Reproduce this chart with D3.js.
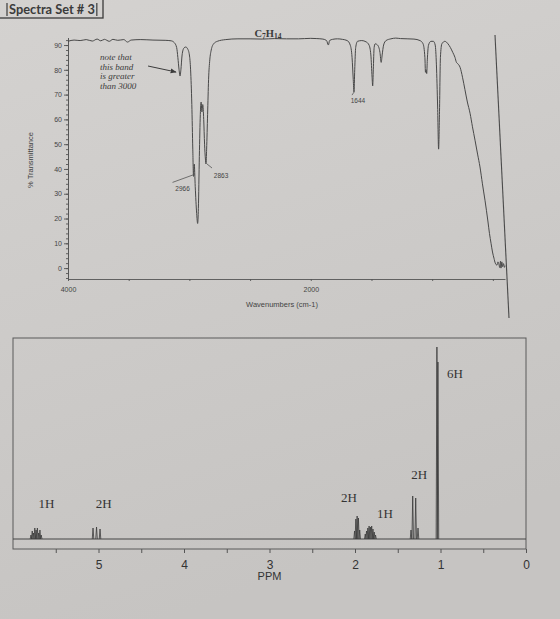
<!DOCTYPE html>
<html>
<head>
<meta charset="utf-8">
<script src="https://cdn.jsdelivr.net/npm/d3@7"></script>
<style>
  html, body { margin: 0; padding: 0; background: #cecccA; }
  svg { display: block; }
</style>
</head>
<body>
<div id="graph"></div>
<script>
// IR trace: wavenumber (cm-1) and % transmittance
const irWavenumber = [4000, 3950, 3900, 3850, 3800, 3760, 3730, 3700, 3660, 3630, 3590, 3540, 3510, 3480,
  3400, 3300, 3200, 3150, 3125, 3105, 3095, 3085, 3077, 3070, 3060, 3045, 3030, 3015, 3000, 2990,
  2980, 2972, 2966, 2960, 2952, 2940, 2932, 2926, 2918, 2910, 2903, 2897, 2890, 2882, 2875, 2868,
  2863, 2858, 2850, 2842, 2832, 2820, 2800, 2770, 2700, 2600, 2500, 2400, 2300, 2200, 2100, 2000,
  1950, 1900, 1870, 1855, 1845, 1820, 1780, 1740, 1700, 1675, 1660, 1650, 1644, 1638, 1630, 1615,
  1580, 1545, 1520, 1505, 1495, 1490, 1485, 1478, 1470, 1450, 1430, 1420, 1412, 1400, 1380, 1340,
  1300, 1260, 1200, 1150, 1100, 1075, 1060, 1055, 1050, 1045, 1040, 1030, 1010, 990, 975, 965,
  955, 947, 940, 932, 920, 895, 870, 850, 830, 812, 800, 790, 770, 750, 730, 710, 688, 668, 647,
  626, 606, 586, 565, 540, 528, 515, 503, 491, 480, 466, 458, 450, 443, 437, 433, 426, 420, 412, 405, 400];
const irTransmittance = [91.5, 92, 91.8, 92.2, 91.6, 92.4, 91.7, 92.3, 91.5, 92.3, 91.9, 92.2, 91.2, 92,
  92.2, 92, 91.9, 91.7, 91, 89, 85, 80, 77.5, 80, 86, 88.8, 89.2, 88.5, 86, 80,
  66, 48, 37, 42, 33, 22, 18, 24, 45, 62, 67, 63, 66, 60, 50, 44,
  42, 48, 62, 76, 84, 88, 90.5, 91.5, 92.2, 92.5, 92.5, 92.4, 92.6, 92.5, 92.5, 92.7,
  92.6, 92.4, 91.8, 90, 91.8, 92.3, 92.5, 92.3, 91.8, 90, 85, 76, 71, 80, 89, 91.5,
  91.8, 91.3, 90, 86, 77, 73.5, 80, 89, 90.5, 90, 87, 83, 86, 90, 91.8, 92.5,
  92.8, 92.6, 92.5, 92.4, 91.8, 90.5, 85, 79, 80, 78.5, 84, 90, 91.5, 91.5, 90, 82,
  65, 48, 62, 85, 90.5, 91.5, 90.5, 89, 87, 85, 83, 82.5, 81, 77, 72, 67, 62.5, 57, 51.6,
  46, 40.8, 34, 27.4, 18.6, 14, 10, 6.5, 4, 2, 1.2, 2.5, 1.5, 0.2, 2.8, 0, 2.5, 0.6, 1.8, 0.3, 1];
const irPeakLabels = [2966, 2863, 1644];
const irYTicks = [0, 10, 20, 30, 40, 50, 60, 70, 80, 90];
const irXTicks = [4000, 3500, 3000, 2500, 2000, 1500, 1000, 500];
const irXTickLabels = [4000, 2000];
const irNote = ["note that", "this band", "is greater", "than 3000"];

// 1H NMR lines: shift (ppm) and height
const nmrPpm = [5.79, 5.775, 5.76, 5.745, 5.73, 5.715, 5.70, 5.685, 5.67,
  5.064, 5.023, 4.982,
  2.005, 1.99, 1.975, 1.96, 1.945,
  1.88, 1.865, 1.85, 1.835, 1.82, 1.805, 1.79, 1.775, 1.76,
  1.345, 1.325, 1.29, 1.263,
  1.042, 1.03];
const nmrHeight = [4, 8, 6, 11, 9, 11, 6, 9, 4,
  11, 12, 10,
  8, 20, 23, 21, 9,
  5, 8, 11, 13, 12, 13, 10, 7, 4,
  9, 43, 41, 11,
  192, 177];
const nmrIntegralText = ["1H", "2H", "2H", "1H", "2H", "6H"];
const nmrIntegralPpm = [5.61, 4.94, 2.07, 1.65, 1.25, 0.83];
const nmrIntegralHeight = [36, 36, 42, 26, 65, 166];
const nmrTicks = [5.5, 5, 4.5, 4, 3.5, 3, 2.5, 2, 1.5, 1, 0.5, 0];
const nmrTickLabels = [5, 4, 3, 2, 1, 0];

const width = 560;
const height = 619;
const ink = "#3b3b3b";
const line = "#555";

const svg = d3.select("#graph")
  .append("svg")
    .attr("width", width)
    .attr("height", height);

// paper background
const grad = svg.append("defs").append("linearGradient")
  .attr("id", "paper").attr("x1", 0).attr("y1", 0).attr("x2", 0.3).attr("y2", 1);
grad.append("stop").attr("offset", "0%").attr("stop-color", "#d4d2d0");
grad.append("stop").attr("offset", "100%").attr("stop-color", "#c6c4c2");
svg.append("rect").attr("width", width).attr("height", height).attr("fill", "url(#paper)");

// title box
svg.append("rect")
  .attr("x", -2).attr("y", -2).attr("width", 105).attr("height", 20)
  .attr("fill", "none").attr("stroke", ink).attr("stroke-width", 1.3);
const title = svg.append("text")
  .attr("x", 9).attr("y", 14)
  .style("font", "bold 12.8px Lato, 'Open Sans', sans-serif")
  .attr("fill", ink)
  .text("Spectra Set # 3");
const titleEnd = 9 + title.node().getComputedTextLength();
[7, titleEnd + 2].forEach(x => svg.append("line")
  .attr("x1", x).attr("x2", x).attr("y1", 3).attr("y2", 16)
  .attr("stroke", ink).attr("stroke-width", 1.2));

// ---------- IR ----------
const irX = d3.scaleLinear().domain([4000, 400]).range([68, 505]);
const irY = d3.scaleLinear().domain([-4.4, 93]).range([279, 37.6]);
const ir = svg.append("g");

ir.append("g")
  .attr("transform", `translate(0,${irY(-4.4)})`)
  .call(d3.axisBottom(irX)
    .tickValues(irXTicks)
    .tickSize(2)
    .tickSizeOuter(0)
    .tickPadding(6)
    .tickFormat(d => irXTickLabels.includes(d) ? d : ""));

ir.append("g")
  .attr("transform", `translate(${irX(4000)},0)`)
  .call(d3.axisLeft(irY)
    .tickValues(irYTicks)
    .tickSize(4)
    .tickPadding(2)
    .tickSizeOuter(0));

ir.append("g")
  .attr("transform", `translate(${irX(4000)},0)`)
  .call(d3.axisLeft(irY)
    .tickValues(d3.range(-4, 93, 2))
    .tickSize(2)
    .tickSizeOuter(0)
    .tickFormat(""));

ir.selectAll(".domain, .tick line").attr("stroke", line).attr("stroke-width", 0.9);
ir.selectAll(".tick text")
  .attr("fill", "#444")
  .style("font", "7px 'Liberation Sans', Arial, sans-serif");

ir.append("text")
  .attr("transform", "translate(33,160) rotate(-90)")
  .attr("text-anchor", "middle")
  .attr("fill", "#444")
  .style("font", "7.5px 'Liberation Sans', Arial, sans-serif")
  .text("% Transmittance");

ir.append("text")
  .attr("x", 282).attr("y", 307)
  .attr("text-anchor", "middle")
  .attr("fill", "#444")
  .style("font", "7.5px 'Liberation Sans', Arial, sans-serif")
  .text("Wavenumbers (cm-1)");

// formula
const formula = ir.append("text")
  .attr("x", 268).attr("y", 37)
  .attr("text-anchor", "middle")
  .attr("fill", ink)
  .style("font", "bold 10.5px 'Liberation Serif', 'DejaVu Serif', serif");
formula.append("tspan").text("C");
formula.append("tspan").attr("dy", 2).style("font-size", "7.5px").text("7");
formula.append("tspan").attr("dy", -2).text("H");
formula.append("tspan").attr("dy", 2).style("font-size", "7.5px").text("14");

// frame line at right edge of the sheet
ir.append("line")
  .attr("x1", irX(400) - 10).attr("y1", 35)
  .attr("x2", irX(400) + 4).attr("y2", 318)
  .attr("stroke", "#4a4a4a").attr("stroke-width", 1.1);

const irPoints = irWavenumber.map((w, i) => [w, irTransmittance[i]]);
const irLine = d3.line()
  .x(d => irX(d[0]))
  .y(d => irY(d[1]))
  .curve(d3.curveMonotoneX);

ir.append("path")
  .datum(irPoints)
  .attr("d", irLine)
  .attr("fill", "none")
  .attr("stroke", "#484848")
  .attr("stroke-width", 1);

// peak labels with leaders
const labelOffsets = {
  2966: { tx: -11, ty: 12, l: [[-21, 6], [1, -2]] },
  2863: { tx: 15, ty: 12, l: [[1, 0], [6, 4]] },
  1644: { tx: 4, ty: 8.5, l: [[0, 0], [-2, 3]] }
};
irPeakLabels.forEach(p => {
  const i = irWavenumber.indexOf(p);
  const px = irX(p), py = irY(irTransmittance[i]);
  const o = labelOffsets[p];
  ir.append("line")
    .attr("x1", px + o.l[0][0]).attr("y1", py + o.l[0][1])
    .attr("x2", px + o.l[1][0]).attr("y2", py + o.l[1][1])
    .attr("stroke", "#555").attr("stroke-width", 0.8);
  ir.append("text")
    .attr("x", px + o.tx).attr("y", py + o.ty)
    .attr("dy", "0.35em")
    .attr("text-anchor", "middle")
    .attr("fill", "#444")
    .style("font", "6.5px 'Liberation Sans', Arial, sans-serif")
    .text(p);
});

// note about the band above 3000
const noteX = irX(3077), noteY = irY(77.5);
svg.append("defs").append("marker")
  .attr("id", "arrow").attr("viewBox", "0 0 10 10")
  .attr("refX", 9).attr("refY", 5)
  .attr("markerWidth", 6).attr("markerHeight", 6)
  .attr("orient", "auto")
  .append("path").attr("d", "M0,1L10,5L0,9z").attr("fill", ink);
ir.append("line")
  .attr("x1", noteX - 32).attr("y1", noteY - 10)
  .attr("x2", noteX - 4).attr("y2", noteY - 4)
  .attr("stroke", ink).attr("stroke-width", 1)
  .attr("marker-end", "url(#arrow)");
ir.append("text")
  .attr("fill", ink)
  .style("font", "italic 9px 'Liberation Serif', 'DejaVu Serif', serif")
  .selectAll("tspan")
  .data(irNote)
  .join("tspan")
    .attr("x", noteX - 80)
    .attr("y", (d, i) => noteY - 16 + i * 9.6)
    .text(d => d);

// ---------- NMR ----------
const nmrX = d3.scaleLinear().domain([6, 0]).range([13, 526]);
const nmrY = d3.scaleLinear().domain([0, 200]).range([539, 339]);
const nmr = svg.append("g");

nmr.append("rect")
  .attr("x", nmrX(6)).attr("y", 338)
  .attr("width", nmrX(0) - nmrX(6)).attr("height", 549 - 338)
  .attr("fill", "none")
  .attr("stroke", "#5a5a5a").attr("stroke-width", 1);

const nmrAxis = nmr.append("g")
  .attr("transform", "translate(0,549)")
  .call(d3.axisBottom(nmrX)
    .tickValues(nmrTicks)
    .tickSize(4)
    .tickPadding(7)
    .tickFormat(d => nmrTickLabels.includes(d) ? d : ""));
nmrAxis.select(".domain").remove();
nmrAxis.selectAll(".tick line").attr("stroke", "#555");
nmrAxis.selectAll(".tick text")
  .attr("fill", "#333")
  .style("font", "12px 'Liberation Sans', Arial, sans-serif");

nmr.append("text")
  .attr("x", nmrX(3)).attr("y", 580)
  .attr("text-anchor", "middle")
  .attr("fill", "#333")
  .style("font", "11px 'Liberation Sans', Arial, sans-serif")
  .text("PPM");

const nmrLine = d3.line().x(d => nmrX(d[0])).y(d => nmrY(d[1]));
nmr.append("path")
  .datum(nmrX.domain().map(p => [p, 0]))
  .attr("d", nmrLine)
  .attr("fill", "none")
  .attr("stroke", "#444")
  .attr("stroke-width", 1);

const halfWidth = 0.009;
nmr.selectAll(".peak")
  .data(nmrPpm.map((p, i) => [p, nmrHeight[i]]))
  .join("path")
    .attr("class", "peak")
    .attr("d", d => nmrLine([[d[0] + halfWidth, 0], [d[0], d[1]], [d[0] - halfWidth, 0]]))
    .attr("fill", "none")
    .attr("stroke", "#3a3a3a")
    .attr("stroke-width", 0.8);

nmr.selectAll(".integral")
  .data(nmrIntegralText)
  .join("text")
    .attr("class", "integral")
    .attr("x", (d, i) => nmrX(nmrIntegralPpm[i]))
    .attr("y", (d, i) => nmrY(nmrIntegralHeight[i]))
    .attr("dy", "0.35em")
    .attr("text-anchor", "middle")
    .attr("fill", "#333")
    .style("font", "13px 'Liberation Serif', 'Times New Roman', serif")
    .text(d => d);
</script>
</body>
</html>
